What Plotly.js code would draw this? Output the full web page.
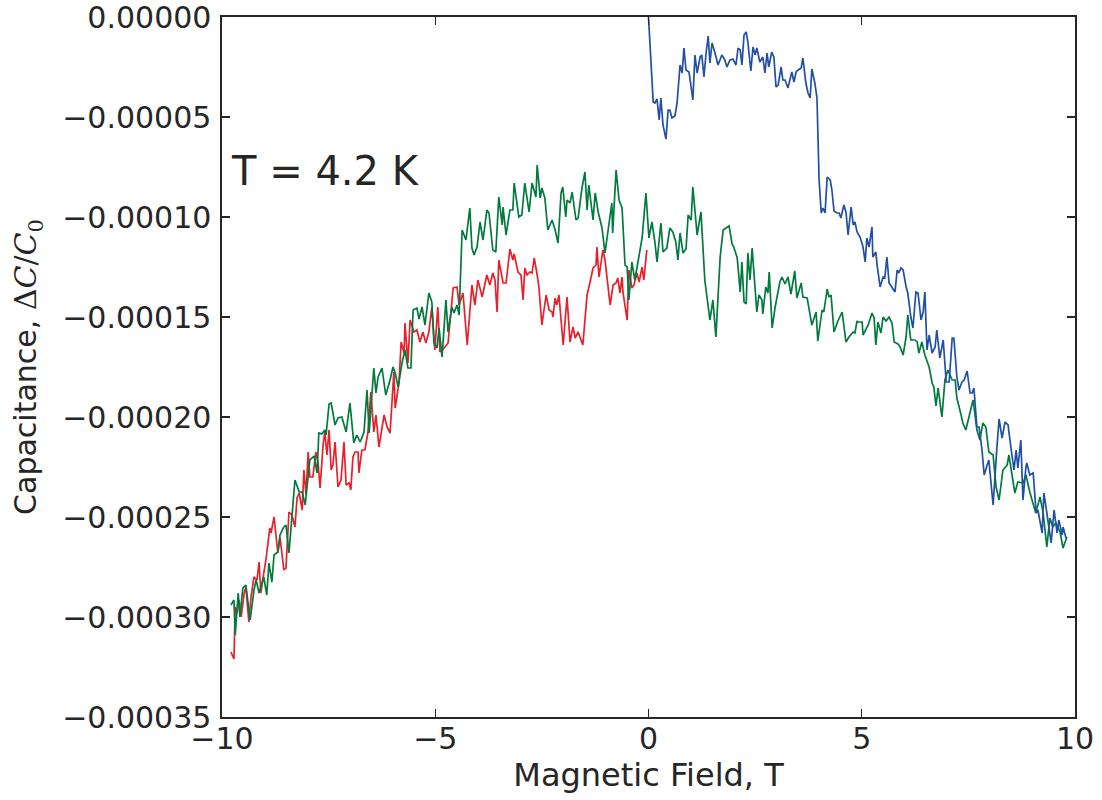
<!DOCTYPE html>
<html>
<head>
<meta charset="utf-8">
<script src="https://cdn.plot.ly/plotly-3.0.1.min.js"></script>
<style>
  html, body { margin: 0; padding: 0; background: #fff; }
  #chart { width: 1102px; height: 800px; }
</style>
</head>
<body>
<div id="chart"></div>
<script>
// Magnetic field (T) and capacitance change dC/C0
const redSweep = [
[-9.79,-31.75e-5],[-9.72,-32.1e-5],[-9.69,-29.5e-5],[-9.65,-29.8e-5],[-9.60,-29.15e-5],[-9.55,-30.0e-5],[-9.48,-28.8e-5],[-9.44,-28.5e-5],[-9.37,-30.25e-5],[-9.32,-29.0e-5],
[-9.25,-28.0e-5],[-9.18,-28.15e-5],[-9.13,-27.25e-5],[-9.09,-28.8e-5],[-9.02,-27.8e-5],[-8.97,-27.15e-5],[-8.88,-25.55e-5],[-8.85,-25.8e-5],[-8.78,-25.0e-5],[-8.74,-25.9e-5],
[-8.69,-26.8e-5],[-8.64,-26.0e-5],[-8.55,-27.65e-5],[-8.50,-27.55e-5],[-8.43,-24.75e-5],[-8.36,-24.9e-5],[-8.29,-25.5e-5],[-8.24,-24.05e-5],[-8.19,-23.8e-5],[-8.12,-24.65e-5],
[-8.08,-22.65e-5],[-8.03,-23.9e-5],[-7.98,-21.75e-5],[-7.94,-23.0e-5],[-7.87,-23.0e-5],[-7.80,-21.75e-5],[-7.75,-22.25e-5],[-7.70,-23.55e-5],[-7.63,-21.4e-5],[-7.59,-20.75e-5],
[-7.54,-21.9e-5],[-7.49,-20.65e-5],[-7.44,-22.65e-5],[-7.40,-22.4e-5],[-7.35,-21.25e-5],[-7.28,-23.5e-5],[-7.21,-23.15e-5],[-7.14,-21.25e-5],[-7.09,-23.4e-5],[-7.02,-23.3e-5],
[-6.98,-23.65e-5],[-6.93,-22.0e-5],[-6.88,-21.75e-5],[-6.81,-21.75e-5],[-6.79,-22.8e-5],[-6.72,-21.65e-5],[-6.65,-21.65e-5],[-6.58,-20.8e-5],[-6.51,-18.75e-5],[-6.44,-20.75e-5],
[-6.39,-19.9e-5],[-6.32,-21.5e-5],[-6.20,-19.9e-5],[-6.13,-20.5e-5],[-6.06,-20.8e-5],[-5.97,-17.75e-5],[-5.94,-19.55e-5],[-5.85,-18.3e-5],[-5.80,-16.25e-5],[-5.73,-16.8e-5],
[-5.71,-15.3e-5],[-5.64,-17.3e-5],[-5.59,-15.15e-5],[-5.50,-15.75e-5],[-5.43,-15.65e-5],[-5.36,-16.25e-5],[-5.29,-15.75e-5],[-5.22,-16.3e-5],[-5.15,-15.75e-5],[-5.08,-14.5e-5],
[-5.01,-16.65e-5],[-4.94,-14.5e-5],[-4.89,-16.75e-5],[-4.79,-16.55e-5],[-4.70,-16.3e-5],[-4.58,-13.55e-5],[-4.49,-13.5e-5],[-4.44,-14.4e-5],[-4.35,-13.8e-5],[-4.25,-16.4e-5],
[-4.14,-13.4e-5],[-4.07,-14.4e-5],[-4.00,-13.15e-5],[-3.90,-14.0e-5],[-3.79,-12.9e-5],[-3.72,-13.4e-5],[-3.65,-12.8e-5],[-3.60,-13.15e-5],[-3.55,-14.75e-5],[-3.51,-12.15e-5],
[-3.41,-13.3e-5],[-3.34,-13.3e-5],[-3.25,-11.6e-5],[-3.18,-12.15e-5],[-3.15,-11.85e-5],[-3.06,-12.75e-5],[-2.99,-12.9e-5],[-2.94,-14.15e-5],[-2.90,-12.55e-5],[-2.85,-12.9e-5],
[-2.78,-12.75e-5],[-2.73,-12.8e-5],[-2.68,-12.05e-5],[-2.61,-12.9e-5],[-2.57,-13.5e-5],[-2.50,-15.4e-5],[-2.40,-13.9e-5],[-2.33,-14.65e-5],[-2.26,-14.75e-5],[-2.24,-15.0e-5],
[-2.19,-14.05e-5],[-2.15,-14.4e-5],[-2.10,-13.9e-5],[-2.00,-16.4e-5],[-1.91,-14.0e-5],[-1.84,-16.25e-5],[-1.77,-15.5e-5],[-1.72,-16.05e-5],[-1.65,-15.75e-5],[-1.54,-16.4e-5],
[-1.44,-13.9e-5],[-1.37,-13.25e-5],[-1.30,-12.55e-5],[-1.23,-12.4e-5],[-1.21,-11.5e-5],[-1.16,-13.0e-5],[-1.07,-11.65e-5],[-1.02,-12.15e-5],[-0.97,-13.05e-5],[-0.90,-14.4e-5],
[-0.83,-13.4e-5],[-0.76,-13.3e-5],[-0.72,-13.05e-5],[-0.67,-13.8e-5],[-0.62,-13.0e-5],[-0.60,-13.75e-5],[-0.50,-15.15e-5],[-0.46,-12.65e-5],[-0.39,-13.55e-5],[-0.34,-13.4e-5],
[-0.27,-12.8e-5],[-0.22,-13.25e-5],[-0.15,-12.5e-5],[-0.11,-13.15e-5],[-0.04,-11.65e-5]
];

const greenSweep = [
[-9.79,-29.4e-5],[-9.72,-29.15e-5],[-9.69,-30.9e-5],[-9.62,-28.8e-5],[-9.58,-30.0e-5],[-9.51,-28.55e-5],[-9.44,-28.4e-5],[-9.34,-30.15e-5],[-9.25,-28.65e-5],[-9.20,-28.15e-5],
[-9.13,-28.8e-5],[-9.02,-28.0e-5],[-8.95,-28.9e-5],[-8.90,-27.3e-5],[-8.83,-28.25e-5],[-8.78,-26.9e-5],[-8.69,-26.75e-5],[-8.64,-25.9e-5],[-8.55,-25.5e-5],[-8.50,-25.4e-5],
[-8.43,-26.8e-5],[-8.36,-25.15e-5],[-8.29,-23.15e-5],[-8.19,-23.75e-5],[-8.12,-23.75e-5],[-8.05,-24.4e-5],[-7.98,-23.0e-5],[-7.94,-22.15e-5],[-7.84,-21.95e-5],[-7.77,-22.8e-5],
[-7.73,-20.8e-5],[-7.66,-20.85e-5],[-7.59,-20.65e-5],[-7.56,-20.9e-5],[-7.49,-19.35e-5],[-7.44,-19.3e-5],[-7.35,-20.4e-5],[-7.28,-20.05e-5],[-7.19,-20.0e-5],[-7.09,-20.75e-5],
[-7.00,-19.3e-5],[-6.91,-21.3e-5],[-6.84,-20.9e-5],[-6.76,-21.25e-5],[-6.67,-20.75e-5],[-6.60,-18.65e-5],[-6.55,-20.8e-5],[-6.44,-17.55e-5],[-6.39,-18.8e-5],[-6.34,-18.0e-5],
[-6.25,-17.55e-5],[-6.16,-18.9e-5],[-6.06,-18.15e-5],[-5.99,-17.5e-5],[-5.94,-17.8e-5],[-5.87,-18.5e-5],[-5.78,-17.3e-5],[-5.71,-16.65e-5],[-5.64,-17.55e-5],[-5.57,-17.55e-5],
[-5.52,-14.65e-5],[-5.43,-14.55e-5],[-5.38,-15.1e-5],[-5.31,-14.5e-5],[-5.24,-15.4e-5],[-5.15,-13.8e-5],[-5.08,-14.25e-5],[-5.03,-16.3e-5],[-4.96,-16.55e-5],[-4.91,-15.55e-5],
[-4.84,-17.0e-5],[-4.75,-14.15e-5],[-4.70,-15.75e-5],[-4.61,-14.5e-5],[-4.56,-14.8e-5],[-4.49,-14.4e-5],[-4.44,-14.9e-5],[-4.37,-10.65e-5],[-4.28,-11.15e-5],[-4.19,-9.55e-5],
[-4.14,-11.55e-5],[-4.09,-11.9e-5],[-4.02,-11.5e-5],[-3.95,-10.25e-5],[-3.88,-11.15e-5],[-3.79,-9.65e-5],[-3.74,-9.8e-5],[-3.65,-11.65e-5],[-3.58,-11.75e-5],[-3.51,-9.0e-5],
[-3.43,-10.4e-5],[-3.41,-9.5e-5],[-3.34,-10.9e-5],[-3.25,-9.65e-5],[-3.18,-9.65e-5],[-3.15,-8.3e-5],[-3.04,-10.0e-5],[-2.97,-9.9e-5],[-2.90,-8.3e-5],[-2.80,-9.75e-5],
[-2.73,-8.3e-5],[-2.64,-9.0e-5],[-2.61,-7.4e-5],[-2.54,-9.05e-5],[-2.50,-8.55e-5],[-2.43,-9.05e-5],[-2.36,-10.65e-5],[-2.26,-10.15e-5],[-2.19,-10.65e-5],[-2.12,-11.3e-5],
[-2.05,-8.8e-5],[-2.01,-8.5e-5],[-1.94,-10.0e-5],[-1.91,-9.15e-5],[-1.84,-9.3e-5],[-1.79,-8.75e-5],[-1.70,-10.15e-5],[-1.65,-10.05e-5],[-1.56,-8.55e-5],[-1.49,-7.75e-5],
[-1.44,-9.65e-5],[-1.40,-8.4e-5],[-1.30,-10.15e-5],[-1.25,-8.8e-5],[-1.18,-9.75e-5],[-1.09,-10.55e-5],[-1.02,-11.8e-5],[-0.95,-10.65e-5],[-0.86,-9.3e-5],[-0.84,-10.8e-5],
[-0.76,-7.65e-5],[-0.69,-9.15e-5],[-0.62,-9.55e-5],[-0.55,-12.4e-5],[-0.50,-12.5e-5],[-0.46,-14.15e-5],[-0.39,-12.25e-5],[-0.32,-13.15e-5],[-0.15,-11.05e-5],[-0.06,-8.8e-5],
[0.01,-11.05e-5],[0.08,-10.25e-5],[0.15,-11.25e-5],[0.20,-12.25e-5],[0.29,-10.3e-5],[0.34,-11.75e-5],[0.43,-11.55e-5],[0.50,-10.55e-5],[0.57,-10.75e-5],[0.64,-11.25e-5],
[0.69,-12.15e-5],[0.74,-10.8e-5],[0.81,-11.8e-5],[0.88,-11.6e-5],[0.93,-9.9e-5],[1.00,-10.15e-5],[1.04,-8.5e-5],[1.14,-10.9e-5],[1.23,-9.75e-5],[1.32,-13.15e-5],
[1.44,-15.15e-5],[1.51,-14.15e-5],[1.58,-16.0e-5],[1.68,-12.0e-5],[1.75,-10.65e-5],[1.89,-10.45e-5],[1.96,-11.35e-5],[2.00,-11.5e-5],[2.08,-12.05e-5],[2.15,-13.75e-5],
[2.19,-12.25e-5],[2.24,-14.25e-5],[2.29,-14.35e-5],[2.33,-11.8e-5],[2.38,-13.15e-5],[2.43,-11.55e-5],[2.50,-13.65e-5],[2.54,-14.75e-5],[2.59,-13.9e-5],[2.66,-14.15e-5],
[2.68,-14.85e-5],[2.75,-13.5e-5],[2.80,-13.8e-5],[2.83,-12.75e-5],[2.90,-15.55e-5],[2.97,-14.5e-5],[3.08,-13.25e-5],[3.13,-13.0e-5],[3.20,-13.35e-5],[3.27,-13.0e-5],
[3.34,-13.85e-5],[3.43,-12.7e-5],[3.48,-14.05e-5],[3.58,-13.3e-5],[3.62,-14.0e-5],[3.72,-14.05e-5],[3.83,-15.4e-5],[3.93,-14.75e-5],[3.97,-16.2e-5],[4.07,-14.65e-5],
[4.11,-14.75e-5],[4.19,-13.6e-5],[4.23,-14.0e-5],[4.28,-13.9e-5],[4.35,-15.75e-5],[4.44,-15.2e-5],[4.54,-14.75e-5],[4.63,-16.25e-5],[4.70,-16.0e-5],[4.80,-15.75e-5],
[4.84,-15.8e-5],[4.89,-15.2e-5],[4.91,-15.25e-5],[5.01,-15.25e-5],[5.03,-15.9e-5],[5.15,-15.4e-5],[5.24,-14.8e-5],[5.29,-15.05e-5],[5.33,-16.4e-5],[5.38,-15.25e-5],
[5.45,-15.8e-5],[5.50,-15.0e-5],[5.57,-15.2e-5],[5.64,-15.0e-5],[5.71,-15.3e-5],[5.76,-16.25e-5],[5.85,-16.35e-5],[5.90,-16.5e-5],[5.97,-16.9e-5],[6.04,-16.0e-5],
[6.08,-14.9e-5],[6.15,-16.15e-5],[6.25,-16.15e-5],[6.30,-16.25e-5],[6.34,-16.8e-5],[6.41,-16.25e-5],[6.48,-16.9e-5],[6.58,-17.5e-5],[6.65,-18.3e-5],[6.69,-18.5e-5],
[6.74,-19.45e-5],[6.79,-18.55e-5],[6.88,-20.0e-5],[6.95,-18.15e-5],[7.02,-17.65e-5],[7.12,-18.15e-5],[7.19,-18.15e-5],[7.23,-19.05e-5],[7.33,-19.9e-5],[7.37,-20.3e-5],
[7.44,-20.65e-5],[7.51,-20.0e-5],[7.61,-19.15e-5],[7.70,-20.65e-5],[7.77,-21.15e-5],[7.84,-20.3e-5],[7.91,-20.5e-5],[7.98,-21.75e-5],[8.08,-21.9e-5],[8.15,-23.5e-5],
[8.22,-24.15e-5],[8.31,-22.65e-5],[8.41,-22.4e-5],[8.45,-21.9e-5],[8.52,-22.8e-5],[8.59,-23.8e-5],[8.66,-23.25e-5],[8.78,-23.3e-5],[8.85,-22.9e-5],[8.94,-23.75e-5],
[9.08,-24.8e-5],[9.18,-24.0e-5],[9.25,-24.75e-5],[9.34,-26.5e-5],[9.41,-25.05e-5],[9.48,-25.5e-5],[9.55,-25.3e-5],[9.65,-25.75e-5],[9.72,-26.55e-5],[9.81,-26.0e-5]
];

const blueSweep = [
[0.00,0.0],[0.11,-4.25e-5],[0.15,-4.3e-5],[0.20,-4.1e-5],[0.25,-5.15e-5],[0.29,-4.05e-5],[0.34,-5.4e-5],[0.41,-6.1e-5],[0.46,-4.65e-5],[0.50,-4.65e-5],
[0.55,-5.05e-5],[0.62,-4.95e-5],[0.67,-4.3e-5],[0.74,-2.4e-5],[0.79,-2.8e-5],[0.83,-1.55e-5],[0.88,-2.65e-5],[0.95,-2.75e-5],[1.04,-4.15e-5],[1.09,-1.9e-5],
[1.14,-2.8e-5],[1.21,-2.0e-5],[1.25,-1.9e-5],[1.30,-3.0e-5],[1.35,-1.8e-5],[1.40,-0.95e-5],[1.44,-2.3e-5],[1.49,-1.3e-5],[1.56,-1.8e-5],[1.63,-2.4e-5],
[1.72,-1.9e-5],[1.79,-2.15e-5],[1.84,-2.5e-5],[1.91,-2.15e-5],[1.98,-2.1e-5],[2.05,-2.4e-5],[2.10,-1.55e-5],[2.15,-1.65e-5],[2.19,-2.4e-5],[2.24,-0.9e-5],
[2.29,-0.75e-5],[2.33,-1.25e-5],[2.40,-2.7e-5],[2.45,-1.5e-5],[2.50,-1.9e-5],[2.54,-1.55e-5],[2.61,-2.25e-5],[2.68,-2.0e-5],[2.73,-2.8e-5],[2.78,-1.8e-5],
[2.82,-2.5e-5],[2.89,-1.75e-5],[2.94,-2.0e-5],[2.99,-3.5e-5],[3.04,-3.4e-5],[3.11,-2.5e-5],[3.15,-3.15e-5],[3.20,-3.15e-5],[3.27,-3.55e-5],[3.36,-2.75e-5],
[3.41,-3.25e-5],[3.46,-2.75e-5],[3.51,-2.65e-5],[3.58,-2.55e-5],[3.62,-2.05e-5],[3.69,-3.3e-5],[3.74,-3.8e-5],[3.79,-4.05e-5],[3.83,-2.6e-5],[3.90,-3.3e-5],
[3.95,-4.05e-5],[4.00,-8.15e-5],[4.05,-9.8e-5],[4.09,-9.55e-5],[4.14,-9.8e-5],[4.19,-8.0e-5],[4.26,-8.15e-5],[4.30,-8.65e-5],[4.35,-9.7e-5],[4.42,-9.8e-5],
[4.47,-9.8e-5],[4.51,-10.05e-5],[4.58,-9.4e-5],[4.63,-9.75e-5],[4.68,-10.9e-5],[4.75,-9.5e-5],[4.80,-10.4e-5],[4.84,-10.25e-5],[4.89,-10.75e-5],[4.96,-11.0e-5],
[5.03,-11.5e-5],[5.08,-12.25e-5],[5.12,-11.05e-5],[5.17,-11.5e-5],[5.24,-10.5e-5],[5.26,-12.0e-5],[5.33,-11.75e-5],[5.36,-12.4e-5],[5.43,-13.5e-5],[5.50,-13.0e-5],
[5.54,-13.05e-5],[5.59,-12.0e-5],[5.64,-13.3e-5],[5.71,-13.5e-5],[5.78,-13.75e-5],[5.83,-12.65e-5],[5.87,-12.8e-5],[5.92,-12.55e-5],[5.97,-12.65e-5],[6.04,-13.5e-5],
[6.08,-13.8e-5],[6.15,-15.0e-5],[6.20,-15.55e-5],[6.27,-13.75e-5],[6.32,-13.8e-5],[6.39,-15.15e-5],[6.44,-14.75e-5],[6.48,-13.75e-5],[6.53,-16.65e-5],[6.58,-15.9e-5],
[6.65,-16.8e-5],[6.72,-16.5e-5],[6.76,-15.65e-5],[6.83,-17.05e-5],[6.91,-16.15e-5],[6.98,-18.25e-5],[7.05,-18.25e-5],[7.12,-16.05e-5],[7.16,-16.05e-5],[7.23,-18.0e-5],
[7.28,-18.65e-5],[7.35,-18.25e-5],[7.40,-18.15e-5],[7.47,-17.7e-5],[7.54,-18.8e-5],[7.59,-18.8e-5],[7.63,-18.55e-5],[7.70,-20.5e-5],[7.75,-20.5e-5],[7.82,-21.65e-5],
[7.87,-22.9e-5],[7.94,-22.4e-5],[7.98,-22.15e-5],[8.08,-24.4e-5],[8.15,-21.8e-5],[8.17,-21.5e-5],[8.22,-20.1e-5],[8.29,-21.05e-5],[8.36,-20.25e-5],[8.43,-20.4e-5],
[8.52,-21.9e-5],[8.57,-22.65e-5],[8.62,-21.65e-5],[8.66,-22.55e-5],[8.73,-21.15e-5],[8.78,-24.15e-5],[8.85,-22.5e-5],[8.87,-22.3e-5],[8.94,-22.9e-5],[9.02,-22.8e-5],
[9.09,-24.8e-5],[9.13,-24.65e-5],[9.23,-25.8e-5],[9.27,-23.8e-5],[9.34,-24.8e-5],[9.44,-26.3e-5],[9.51,-24.65e-5],[9.58,-25.8e-5],[9.62,-25.15e-5],[9.70,-25.9e-5],
[9.72,-25.5e-5],[9.79,-26.05e-5]
];

const xTicks = [-10, -5, 0, 5, 10];
const yTicks = [-0.00035, -0.00030, -0.00025, -0.00020, -0.00015, -0.00010, -0.00005, 0];
const seriesColors = { red: '#e8202b', green: '#007a3d', blue: '#2150a3' };

function trace(points, color) {
  return {
    type: 'scatter', mode: 'lines',
    x: points.map(p => p[0]), y: points.map(p => p[1]),
    line: { color: color, width: 1.7 },
    hoverinfo: 'skip', showlegend: false
  };
}

const data = [
  trace(redSweep, seriesColors.red),
  trace(greenSweep, seriesColors.green),
  trace(blueSweep, seriesColors.blue)
];

const ink = '#262626';
const axisCommon = {
  showgrid: false, zeroline: false,
  showline: true, linecolor: ink, linewidth: 1.6, mirror: 'ticks',
  ticks: 'inside', ticklen: 8, tickwidth: 1.2, tickcolor: ink,
  ticklabeloverflow: 'allow',
  tickfont: { family: 'DejaVu Sans', size: 30, color: ink }
};

const layout = {
  width: 1102, height: 800,
  margin: { l: 222, r: 27, t: 17, b: 83 },
  paper_bgcolor: '#fff', plot_bgcolor: '#fff',
  xaxis: Object.assign({}, axisCommon, {
    range: [-10, 10], tickvals: xTicks, ticklabelstandoff: -6,
    title: { text: 'Magnetic Field, T', font: { family: 'DejaVu Sans', size: 32, color: ink }, standoff: 8 }
  }),
  yaxis: Object.assign({}, axisCommon, {
    range: [-0.00035, 0], tickvals: yTicks, tickformat: '.5f', ticklabelstandoff: 3,
    title: {
      text: "Capacitance, <span style='font-family:DejaVu Serif'>Δ<i>C</i>/<i>C</i><sub>0</sub></span>",
      font: { family: 'DejaVu Sans', size: 30, color: ink }, standoff: 16
    }
  }),
  annotations: [{
    xref: 'paper', yref: 'paper', x: 0.008, y: 0.78, xanchor: 'left', yanchor: 'middle',
    text: 'T = 4.2 K', showarrow: false,
    font: { family: 'DejaVu Sans', size: 40, color: ink }
  }]
};

Plotly.newPlot('chart', data, layout, { displayModeBar: false, staticPlot: true });
</script>
</body>
</html>
